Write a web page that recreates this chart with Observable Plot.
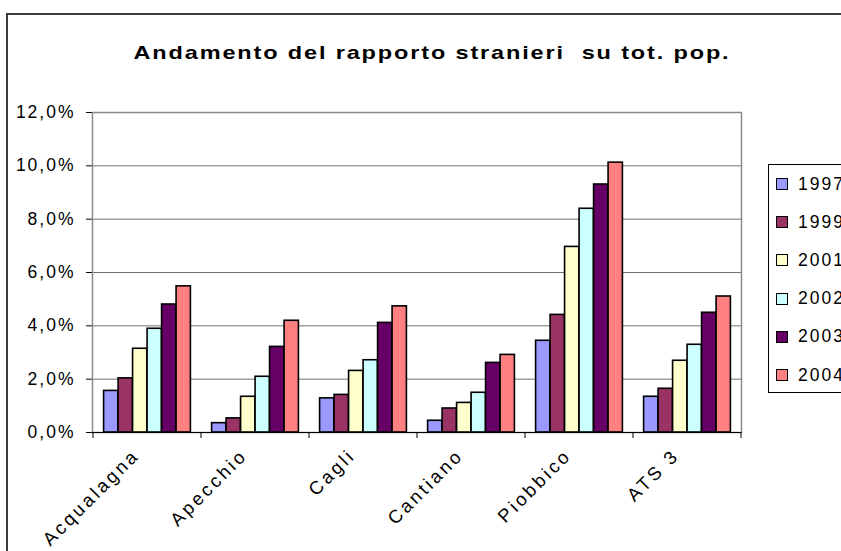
<!DOCTYPE html>
<html>
<head>
<meta charset="utf-8">
<script src="https://cdn.jsdelivr.net/npm/d3@7"></script>
<script src="https://cdn.jsdelivr.net/npm/@observablehq/plot@0.6"></script>
<style>
  html, body { margin: 0; padding: 0; background: #fff; overflow: hidden; }
  #wrap { position: relative; width: 841px; height: 551px; overflow: hidden; }
  #wrap svg { position: absolute; left: 0; top: 0; }
  #wrap svg text { white-space: pre; letter-spacing: 2px; }
  #border { position: absolute; left: 6px; top: 13px; width: 900px; height: 700px; border: 2px solid #3c3c3c; pointer-events: none; }
  #legend { position: absolute; left: 768px; top: 164px; width: 110px; height: 227px; border: 1px solid #000; background: #fff; font-family: "Liberation Sans", Arial, sans-serif; font-size: 17.5px; letter-spacing: 2px; }
  .item { position: absolute; left: 7px; height: 20px; display: flex; align-items: center; }
  .sw { width: 10px; height: 10px; border: 1px solid #000; margin-right: 10px; }
</style>
</head>
<body>
<div id="wrap"><div id="border"></div><div id="legend"></div></div>
<script>
const title = "Andamento del rapporto stranieri  su tot. pop.";
const categories = ["Acqualagna", "Apecchio", "Cagli", "Cantiano", "Piobbico", "ATS 3"];
const years = ["1997", "1999", "2001", "2002", "2003", "2004"];
const colors = ["#9999FF", "#993366", "#FFFFCC", "#CCFFFF", "#660066", "#FF8080"];
const v1997 = [1.56, 0.35, 1.28, 0.44, 3.44, 1.34];
const v1999 = [2.03, 0.53, 1.41, 0.90, 4.41, 1.64];
const v2001 = [3.14, 1.34, 2.31, 1.11, 6.96, 2.69];
const v2002 = [3.89, 2.09, 2.71, 1.49, 8.39, 3.29];
const v2003 = [4.80, 3.21, 4.11, 2.61, 9.30, 4.49];
const v2004 = [5.48, 4.19, 4.73, 2.91, 10.12, 5.10];
const yTicks = [0, 2, 4, 6, 8, 10, 12];

const series = [v1997, v1999, v2001, v2002, v2003, v2004];
const FONT = "Liberation Sans, Arial, sans-serif";
const W = 841, H = 551, ML = 92, MR = 100, MT = 112, MB = 119;
const bandW = (W - ML - MR) / categories.length;
const outer = bandW * 0.098;
const barW = (bandW - 2 * outer) / years.length;
const fmt = d => d.toFixed(1).replace(".", ",") + "%";

const barMarks = years.map((yr, i) =>
  Plot.barY(categories.map((c, j) => ({cat: c, year: yr, value: series[i][j]})), {
    x: "cat", y: "value", fill: colors[i], stroke: "#000", strokeWidth: 1.6,
    insetLeft: outer + i * barW, insetRight: outer + (years.length - 1 - i) * barW
  })
);

const xTicks = (index, scales, values, dims) => {
  const x = scales.x;
  const g = d3.create("svg:g");
  const y0 = dims.height - dims.marginBottom;
  const bw = x.bandwidth();
  const xs = categories.map(c => x(c)).concat([x(categories[categories.length - 1]) + bw]);
  for (const xv of xs) {
    g.append("line").attr("x1", xv).attr("x2", xv).attr("y1", y0).attr("y2", y0 + 6)
      .attr("stroke", "#000").attr("stroke-width", 1);
  }
  return g.node();
};

const plot = Plot.plot({
  width: W, height: H,
  marginLeft: ML, marginRight: MR, marginTop: MT, marginBottom: MB,
  style: {fontFamily: FONT, fontSize: "17.5px", background: "transparent", overflow: "visible", color: "#000"},
  x: {domain: categories, padding: 0, axis: null},
  y: {domain: [0, 12], ticks: 6, tickFormat: fmt, tickSize: 6, tickPadding: 11, label: null, line: true},
  marks: [
    Plot.ruleY(yTicks, {stroke: "#707070", strokeWidth: 1}),
    Plot.frame({stroke: "#8a8a8a", strokeWidth: 1.5}),
    ...barMarks,
    Plot.ruleY([0], {stroke: "#000", strokeWidth: 1.2}),
    xTicks,
    Plot.text(categories, {x: d => d, text: d => d, frameAnchor: "bottom", rotate: -45,
      textAnchor: "end", dx: -7, dy: 24, fontSize: 18.5}),
    Plot.text([title], {text: d => d, frameAnchor: "top-left", textAnchor: "start",
      dx: 41, dy: -67, fontSize: 19, fontWeight: "bold"})
  ]
});
document.getElementById("wrap").appendChild(plot);
for (const t of plot.querySelectorAll("text")) {
  if (t.textContent === title) {
    t.style.letterSpacing = "1.5px";
    t.setAttribute("textLength", 597);
    t.setAttribute("lengthAdjust", "spacingAndGlyphs");
  } else if (categories.includes(t.textContent)) {
    t.style.letterSpacing = "3px";
  }
}

const legend = document.getElementById("legend");
years.forEach((yr, i) => {
  const it = document.createElement("div");
  it.className = "item";
  it.style.top = (9 + i * 38.2) + "px";
  const sw = document.createElement("div");
  sw.className = "sw";
  sw.style.background = colors[i];
  it.appendChild(sw);
  const t = document.createElement("span");
  t.textContent = yr;
  it.appendChild(t);
  legend.appendChild(it);
});
</script>
</body>
</html>
